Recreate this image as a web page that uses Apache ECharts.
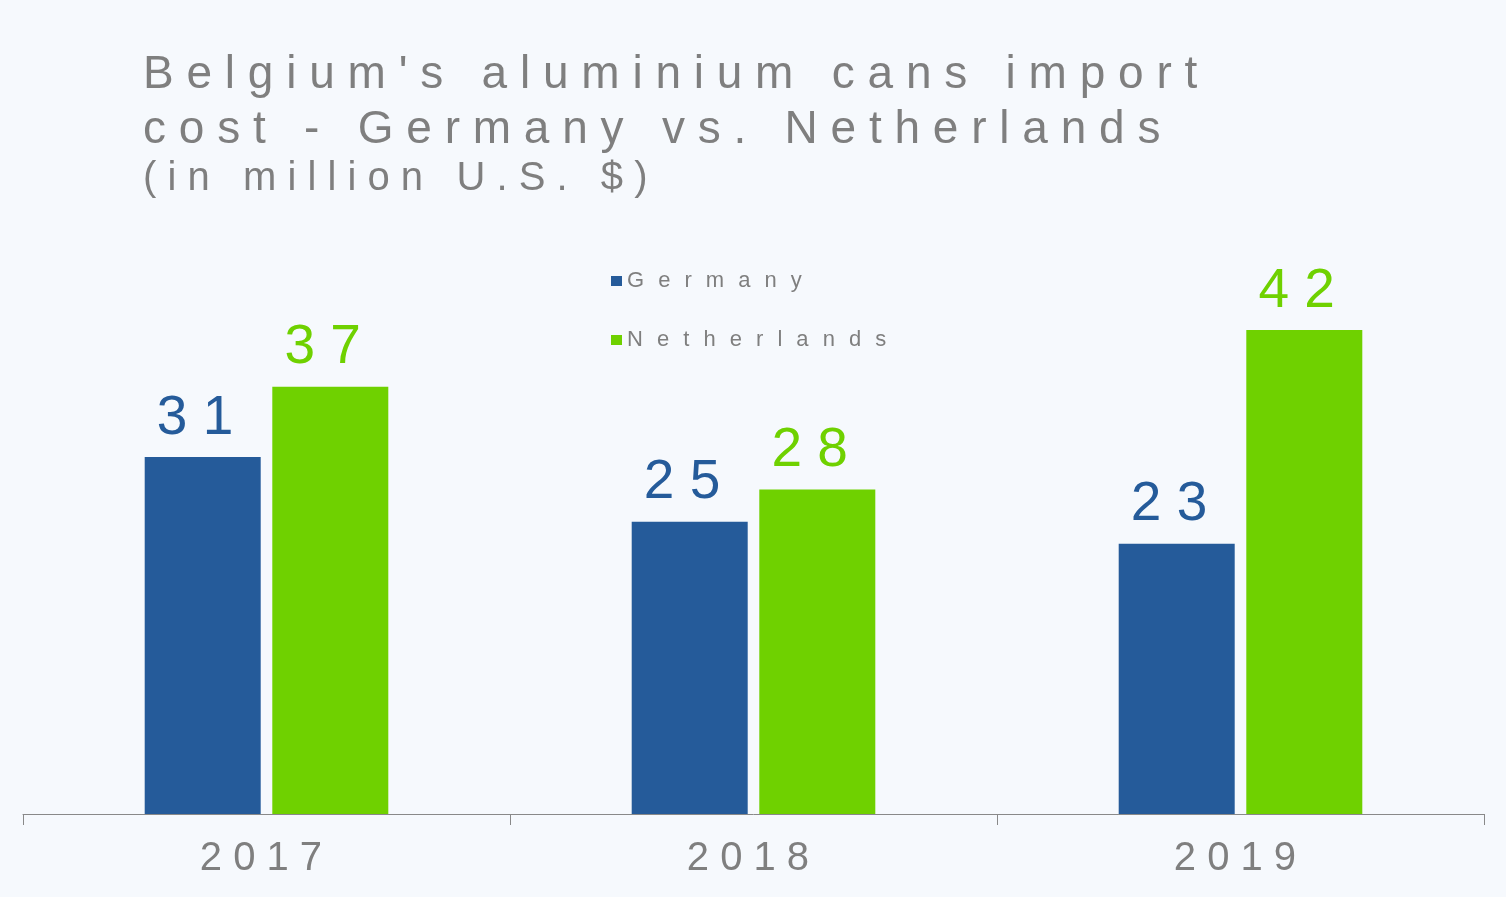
<!DOCTYPE html>
<html>
<head>
<meta charset="utf-8">
<title>Belgium's aluminium cans import cost</title>
<script src="https://cdn.jsdelivr.net/npm/echarts@6/dist/echarts.min.js"></script>
<style>
  html, body { margin: 0; padding: 0; background: #f6f9fd; }
  #chart { width: 1506px; height: 897px; }
</style>
</head>
<body>
<div id="chart"></div>
<script>
var categories = ["2017", "2018", "2019"];
var seriesNames = ["Germany", "Netherlands"];
var germany = [30.9, 25.3, 23.4];
var netherlands = [37.0, 28.1, 41.9];

var titleLines = ["Belgium's aluminium cans import", "cost - Germany vs. Netherlands"];
var subtitle = "(in million U.S. $)";

var blue = "#255b9a";
var green = "#6fd100";
var gray = "#7f7f7f";
var font = "'Liberation Sans', Arial, sans-serif";

// the source uses wide character spacing, done here with spaces
function spaced(s, gap) {
  return Array.from(s).join(gap || " ");
}

var chartDom = document.getElementById("chart");
var myChart = echarts.init(chartDom);
var option;

option = {
  backgroundColor: "#f6f9fd",
  animation: false,
  title: {
    text: titleLines.map(function (l) { return spaced(l); }).join("\n"),
    subtext: spaced(subtitle),
    left: 143,
    top: 48,
    padding: 0,
    itemGap: 1,
    textStyle: {
      fontFamily: font,
      fontSize: 46,
      lineHeight: 55,
      fontWeight: "normal",
      color: gray
    },
    subtextStyle: {
      fontFamily: font,
      fontSize: 40,
      lineHeight: 40,
      color: gray
    }
  },
  legend: {
    data: seriesNames,
    orient: "vertical",
    left: 611,
    top: 270,
    padding: 0,
    itemWidth: 11,
    itemHeight: 10,
    itemGap: 37,
    icon: "rect",
    formatter: function (name) { return spaced(name, "  \u200A"); },
    textStyle: {
      fontFamily: font,
      fontSize: 22,
      lineHeight: 22,
      color: gray
    }
  },
  grid: {
    left: 23,
    right: 22,
    top: 236.5,
    bottom: 83
  },
  xAxis: {
    type: "category",
    data: categories,
    axisLine: { show: true, lineStyle: { color: "#898989", width: 1 } },
    axisTick: {
      show: true,
      alignWithLabel: false,
      length: 11,
      lineStyle: { color: "#898989", width: 1 }
    },
    axisLabel: {
      fontFamily: font,
      fontSize: 40,
      color: gray,
      margin: 25,
      formatter: function (v) { return spaced(v) + " "; }
    }
  },
  yAxis: {
    type: "value",
    min: 0,
    max: 50,
    show: false,
    splitLine: { show: false }
  },
  series: [
    {
      name: seriesNames[0],
      type: "bar",
      data: germany,
      barWidth: 116,
      barGap: "10%",
      itemStyle: { color: blue },
      label: {
        show: true,
        position: "top",
        distance: 11,
        fontFamily: font,
        fontSize: 55,
        color: blue,
        formatter: function (p) { return spaced(String(Math.round(p.value))) + " "; }
      }
    },
    {
      name: seriesNames[1],
      type: "bar",
      data: netherlands,
      barWidth: 116,
      barGap: "10%",
      itemStyle: { color: green },
      label: {
        show: true,
        position: "top",
        distance: 11,
        fontFamily: font,
        fontSize: 55,
        color: green,
        formatter: function (p) { return spaced(String(Math.round(p.value))) + " "; }
      }
    }
  ]
};

option && myChart.setOption(option);
</script>
</body>
</html>
